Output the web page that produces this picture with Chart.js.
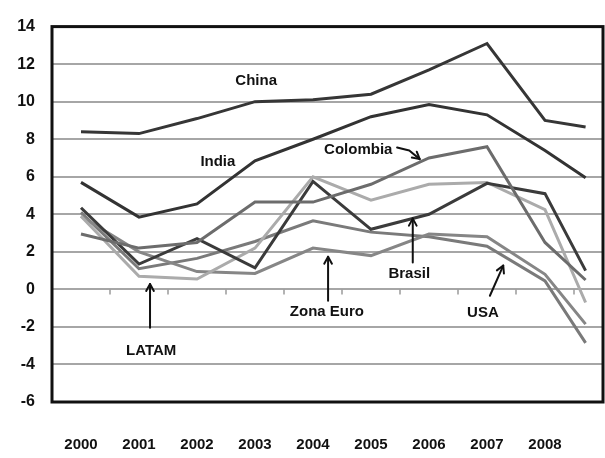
<!DOCTYPE html>
<html>
<head>
<meta charset="utf-8">
<script src="https://cdn.jsdelivr.net/npm/chart.js@4/dist/chart.umd.min.js"></script>
<style>
  html, body { margin: 0; padding: 0; background: #ffffff; }
  #wrap { width: 605px; height: 458px; }
</style>
</head>
<body>
<div id="wrap"><canvas id="growth" width="605" height="458"></canvas></div>
<script>
// Crecimiento del PIB real (%), 2000-2008 y proyección
const years    = [2000, 2001, 2002, 2003, 2004, 2005, 2006, 2007, 2008, 2008.7];
const yearTicks = [2000, 2001, 2002, 2003, 2004, 2005, 2006, 2007, 2008];
const yTicks   = [-6, -4, -2, 0, 2, 4, 6, 8, 10, 12, 14];

const china    = [8.4, 8.3, 9.1, 10.0, 10.1, 10.4, 11.7, 13.1, 9.0, 8.65];
const india    = [5.7, 3.85, 4.55, 6.85, 8.0, 9.2, 9.85, 9.3, 7.4, 5.95];
const colombia = [2.95, 2.2, 2.5, 4.65, 4.65, 5.6, 7.0, 7.6, 2.5, 0.5];
const brasil   = [4.35, 1.35, 2.7, 1.15, 5.75, 3.2, 4.0, 5.65, 5.1, 1.0];
const latam    = [3.9, 0.7, 0.55, 2.2, 6.0, 4.75, 5.6, 5.7, 4.25, -0.7];
const zonaEuro = [3.9, 2.0, 0.95, 0.85, 2.2, 1.8, 2.95, 2.8, 0.8, -1.85];
const usa      = [4.1, 1.1, 1.65, 2.55, 3.65, 3.05, 2.8, 2.3, 0.45, -2.85];

const seriesNames  = ['China', 'India', 'Colombia', 'Brasil', 'LATAM', 'Zona Euro', 'USA'];
const seriesValues = [china, india, colombia, brasil, latam, zonaEuro, usa];
const seriesColors = ['#363636', '#333333', '#6c6c6c', '#3b3b3b', '#ababab', '#868686', '#7a7a7a'];

// Etiquetas con flecha, en unidades de datos (año, %)
const callouts = [
  { text: 'China',     at: [2003.02, 11.1] },
  { text: 'India',     at: [2002.36, 6.78] },
  { text: 'Colombia',  at: [2004.78, 7.45], arrow: [[2005.45, 7.56], [2005.66, 7.4], [2005.84, 6.94]] },
  { text: 'Brasil',    at: [2005.66, 0.81], arrow: [[2005.72, 1.43], [2005.72, 3.77]] },
  { text: 'Zona Euro', at: [2004.24, -1.22], arrow: [[2004.26, -0.6], [2004.26, 1.74]] },
  { text: 'USA',       at: [2006.93, -1.27], arrow: [[2007.05, -0.34], [2007.28, 1.27]] },
  { text: 'LATAM',     at: [2001.21, -3.25], arrow: [[2001.19, -2.05], [2001.19, 0.29]] }
];

const FONT = '"Liberation Sans", Arial, sans-serif';

const datasets = seriesNames.map((name, i) => ({
  label: name,
  data: years.map((yr, j) => ({ x: yr, y: seriesValues[i][j] })),
  borderColor: seriesColors[i],
  backgroundColor: seriesColors[i],
  borderWidth: 3,
  pointRadius: 0,
  tension: 0,
  fill: false
}));

// Marcas de división entre años sobre la línea del cero
const zeroTicks = {
  id: 'zeroTicks',
  beforeDatasetsDraw(chart) {
    const { ctx, scales: { x, y } } = chart;
    const y0 = y.getPixelForValue(0);
    ctx.save();
    ctx.strokeStyle = '#9a9a9a';
    ctx.lineWidth = 1.5;
    yearTicks.forEach(yr => {
      const px = x.getPixelForValue(yr + 0.5);
      ctx.beginPath();
      ctx.moveTo(px, y0);
      ctx.lineTo(px, y0 + 5);
      ctx.stroke();
    });
    ctx.restore();
  }
};

// Marco del área de trazado
const plotFrame = {
  id: 'plotFrame',
  afterDatasetsDraw(chart) {
    const { ctx, chartArea: a } = chart;
    ctx.save();
    ctx.strokeStyle = '#111111';
    ctx.lineWidth = 3;
    ctx.strokeRect(a.left, a.top, a.right - a.left, a.bottom - a.top);
    ctx.restore();
  }
};

function drawArrow(ctx, pts) {
  ctx.beginPath();
  ctx.moveTo(pts[0][0], pts[0][1]);
  for (let i = 1; i < pts.length; i++) ctx.lineTo(pts[i][0], pts[i][1]);
  ctx.stroke();
  const [tx, ty] = pts[pts.length - 1];
  const [fx, fy] = pts[pts.length - 2];
  const ang = Math.atan2(ty - fy, tx - fx);
  const len = 8, spread = 0.5;
  ctx.beginPath();
  ctx.moveTo(tx - len * Math.cos(ang - spread), ty - len * Math.sin(ang - spread));
  ctx.lineTo(tx, ty);
  ctx.lineTo(tx - len * Math.cos(ang + spread), ty - len * Math.sin(ang + spread));
  ctx.stroke();
}

const calloutLabels = {
  id: 'calloutLabels',
  afterDraw(chart) {
    const { ctx, scales: { x, y } } = chart;
    ctx.save();
    ctx.fillStyle = '#111111';
    ctx.strokeStyle = '#111111';
    ctx.lineWidth = 2;
    ctx.lineJoin = 'round';
    ctx.lineCap = 'round';
    ctx.font = 'bold 15px ' + FONT;
    ctx.textAlign = 'center';
    ctx.textBaseline = 'middle';
    callouts.forEach(c => {
      ctx.fillText(c.text, x.getPixelForValue(c.at[0]), y.getPixelForValue(c.at[1]));
      if (c.arrow) {
        drawArrow(ctx, c.arrow.map(p => [x.getPixelForValue(p[0]), y.getPixelForValue(p[1])]));
      }
    });
    ctx.restore();
  }
};

new Chart(document.getElementById('growth'), {
  type: 'line',
  data: { datasets },
  options: {
    responsive: false,
    animation: false,
    layout: { padding: { top: 17, right: 2, left: 0, bottom: 0 } },
    plugins: {
      legend: { display: false },
      tooltip: { enabled: false }
    },
    scales: {
      x: {
        type: 'linear',
        min: 1999.5,
        max: 2009,
        afterBuildTicks(scale) { scale.ticks = yearTicks.map(v => ({ value: v })); },
        afterFit(scale) { scale.height = 56; },
        grid: { display: false, drawTicks: false },
        border: { display: false },
        ticks: {
          color: '#111111',
          padding: 34,
          maxRotation: 0,
          autoSkip: false,
          font: { family: FONT, size: 15, weight: 'bold' },
          callback: v => String(v)
        }
      },
      y: {
        min: -6,
        max: 14,
        afterBuildTicks(scale) { scale.ticks = yTicks.map(v => ({ value: v })); },
        afterFit(scale) { scale.width = 52; },
        grid: { color: '#a6a6a6', lineWidth: 2, drawTicks: false },
        border: { display: false },
        ticks: {
          color: '#111111',
          padding: 17,
          font: { family: FONT, size: 16, weight: 'bold' }
        }
      }
    }
  },
  plugins: [zeroTicks, plotFrame, calloutLabels]
});
</script>
</body>
</html>
